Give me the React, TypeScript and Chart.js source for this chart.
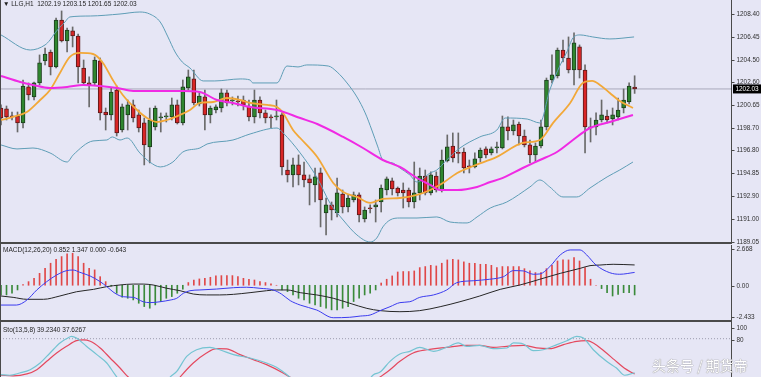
import React, { useEffect, useRef } from 'react';
import { Chart, registerables } from 'chart.js';

Chart.register(...registerables);

// ---------- layout / style constants ----------
const W = 761;
const AXIS_W = 30;
const X_MIN = -0.18;
const X_MAX = 132.49;
const BG = '#e6e6f5';
const FONT = '"Liberation Sans", Arial, sans-serif';
const AXIS_LINE = '#4a4a4a';
const LABEL_COLOR = '#303030';

// ---------- candle data (H1, index 0..115) ----------
const opens = [
  1200.41, 1200.33, 1199.73, 1199.73, 1199.14, 1202.20, 1201.35, 1202.54, 1204.41, 1205.17,
  1203.90, 1207.89, 1206.11, 1206.96, 1206.53, 1203.81, 1202.54, 1202.54, 1204.41, 1200.07,
  1199.82, 1201.94, 1198.54, 1199.82, 1200.67, 1199.82, 1199.14, 1197.10, 1198.80, 1199.56,
  1199.65, 1199.65, 1200.67, 1199.14, 1202.11, 1202.88, 1200.75, 1201.35, 1199.82, 1200.24,
  1200.41, 1201.69, 1201.01, 1201.01, 1201.09, 1200.58, 1199.65, 1201.09, 1199.99, 1199.65,
  1199.65, 1199.82, 1195.14, 1194.72, 1195.57, 1194.72, 1194.38, 1193.87, 1194.89, 1191.49,
  1192.17, 1191.49, 1193.10, 1192.00, 1192.59, 1193.02, 1190.98, 1191.91, 1192.00, 1192.42,
  1193.44, 1194.21, 1193.61, 1193.44, 1193.44, 1192.42, 1193.19, 1194.63, 1193.19, 1194.63,
  1193.44, 1195.91, 1197.18, 1196.59, 1196.67, 1195.45, 1195.40, 1196.16, 1196.93, 1196.59,
  1197.01, 1197.01, 1198.80, 1198.46, 1199.05, 1198.03, 1197.27, 1196.42, 1197.18, 1198.80,
  1202.79, 1203.13, 1205.34, 1204.66, 1203.64, 1205.60, 1203.64, 1198.71, 1198.80, 1199.39,
  1199.73, 1199.48, 1199.65, 1200.41, 1200.92, 1202.19,
];
const highs = [
  1200.67, 1200.58, 1200.07, 1200.07, 1202.79, 1202.54, 1202.62, 1204.92, 1205.51, 1205.34,
  1208.06, 1208.66, 1207.21, 1207.30, 1206.70, 1204.49, 1203.05, 1204.75, 1204.66, 1200.41,
  1202.11, 1202.28, 1200.75, 1201.09, 1201.09, 1200.24, 1199.56, 1200.41, 1200.58, 1199.99,
  1199.99, 1201.26, 1201.09, 1202.79, 1203.64, 1203.64, 1201.77, 1201.94, 1200.58, 1200.67,
  1202.03, 1201.94, 1201.35, 1201.43, 1201.43, 1201.09, 1201.94, 1201.35, 1200.24, 1199.82,
  1201.09, 1199.99, 1195.99, 1196.16, 1196.42, 1195.82, 1194.72, 1195.31, 1195.31, 1192.76,
  1192.42, 1194.46, 1193.44, 1193.02, 1193.27, 1193.19, 1192.00, 1192.17, 1192.59, 1193.87,
  1194.55, 1194.46, 1193.70, 1194.04, 1193.61, 1195.82, 1195.31, 1195.14, 1194.98, 1194.98,
  1196.84, 1198.12, 1198.29, 1198.29, 1197.01, 1195.99, 1196.59, 1197.01, 1197.10, 1197.10,
  1197.52, 1199.73, 1199.65, 1199.39, 1199.22, 1198.54, 1197.69, 1197.44, 1199.39, 1202.96,
  1204.92, 1205.51, 1206.19, 1206.45, 1206.79, 1205.77, 1204.07, 1199.56, 1199.99, 1201.09,
  1200.24, 1200.41, 1201.26, 1202.03, 1202.54, 1203.15,
];
const lows = [
  1198.97, 1199.39, 1199.39, 1198.37, 1198.71, 1201.09, 1201.09, 1202.37, 1204.07, 1203.22,
  1203.81, 1206.02, 1205.17, 1205.60, 1202.54, 1202.37, 1200.50, 1202.37, 1199.39, 1198.54,
  1199.39, 1198.03, 1198.37, 1198.54, 1199.22, 1198.37, 1195.57, 1195.74, 1198.54, 1198.37,
  1199.22, 1199.39, 1199.05, 1198.97, 1201.94, 1200.67, 1200.58, 1198.54, 1199.14, 1199.99,
  1200.07, 1200.58, 1200.67, 1200.58, 1200.24, 1199.31, 1199.14, 1199.56, 1199.14, 1198.71,
  1199.39, 1194.72, 1194.12, 1193.70, 1193.87, 1193.70, 1192.17, 1192.42, 1190.30, 1189.62,
  1190.89, 1191.15, 1191.49, 1191.57, 1192.42, 1190.72, 1190.72, 1191.49, 1190.72, 1191.57,
  1193.02, 1193.02, 1192.93, 1191.91, 1192.00, 1191.91, 1192.59, 1193.02, 1193.02, 1193.27,
  1193.27, 1195.82, 1195.82, 1195.74, 1194.89, 1194.89, 1195.31, 1195.82, 1196.16, 1196.42,
  1196.59, 1196.93, 1197.69, 1198.12, 1197.27, 1197.10, 1195.74, 1195.82, 1197.01, 1198.54,
  1202.54, 1202.96, 1204.32, 1203.39, 1202.37, 1202.96, 1196.59, 1197.52, 1198.12, 1199.22,
  1199.14, 1198.97, 1199.39, 1199.99, 1200.75, 1201.65,
];
const closes = [
  1199.56, 1199.65, 1199.65, 1199.14, 1202.28, 1201.52, 1202.54, 1204.24, 1205.00, 1203.90,
  1207.89, 1206.11, 1207.04, 1206.53, 1203.90, 1202.54, 1202.37, 1204.49, 1199.99, 1199.82,
  1201.77, 1198.29, 1200.50, 1200.67, 1199.56, 1198.71, 1197.27, 1199.39, 1200.41, 1199.65,
  1199.70, 1200.67, 1199.14, 1202.20, 1203.05, 1200.84, 1201.43, 1199.82, 1200.41, 1200.50,
  1201.69, 1200.84, 1201.09, 1200.92, 1200.67, 1199.65, 1201.09, 1199.99, 1199.56, 1199.56,
  1199.73, 1195.40, 1194.72, 1195.57, 1194.72, 1194.29, 1194.04, 1194.55, 1192.59, 1192.17,
  1191.74, 1193.19, 1192.00, 1192.76, 1193.02, 1191.32, 1191.74, 1191.85, 1192.17, 1193.61,
  1194.38, 1193.53, 1193.19, 1193.19, 1192.42, 1193.19, 1194.63, 1193.19, 1194.72, 1193.44,
  1195.99, 1197.10, 1196.16, 1196.55, 1195.31, 1195.40, 1196.08, 1196.84, 1196.42, 1196.93,
  1197.10, 1198.80, 1198.46, 1198.97, 1198.03, 1197.27, 1196.42, 1197.18, 1198.80, 1202.79,
  1203.22, 1205.34, 1204.66, 1203.64, 1205.94, 1203.64, 1198.80, 1198.80, 1199.39, 1199.82,
  1199.39, 1199.82, 1200.24, 1201.09, 1202.28, 1202.03,
];

// ---------- indicator lines: [bar index, value] ----------
const bbUpper = [
  [0, 1206.62], [5.3, 1205.34], [8.0, 1205.77], [8.9, 1206.19], [9.8, 1206.79], [11.6, 1207.72],
  [12.5, 1208.15], [16.2, 1208.23], [21.6, 1208.40], [25.2, 1208.57], [27.0, 1208.40], [28.9, 1207.72],
  [30.3, 1206.45], [31.6, 1205.17], [32.9, 1204.32], [34.3, 1203.81], [36.7, 1202.71], [38.8, 1202.71],
  [43.4, 1202.88], [45.2, 1202.79], [45.7, 1202.54], [50.1, 1202.54], [51.9, 1203.98], [53.9, 1203.90],
  [55.5, 1204.07], [59.4, 1203.98], [61.0, 1203.47], [62.8, 1202.54], [64.6, 1201.35], [66.1, 1199.99],
  [67.3, 1198.54], [68.4, 1197.10], [69.3, 1195.99], [71.1, 1195.74], [72.4, 1195.31], [74.2, 1194.72],
  [75.5, 1194.12], [77.9, 1194.89], [79.1, 1195.14], [80.9, 1195.99], [83.3, 1197.01], [86.9, 1197.95],
  [90.0, 1198.54], [91.5, 1199.56], [95.5, 1199.47], [97.8, 1199.14], [99.6, 1201.94], [101.5, 1204.07],
  [102.7, 1205.17], [103.8, 1206.36], [105.1, 1206.62], [107.4, 1206.45], [110.5, 1206.28], [114.9, 1206.45],
];
const bbLower = [
  [0, 1197.27], [2.9, 1196.93], [5.8, 1197.01], [8.9, 1196.59], [12.0, 1195.82], [13.1, 1196.42],
  [16.7, 1197.61], [19.2, 1197.69], [20.2, 1197.95], [21.6, 1197.69], [22.9, 1197.86], [25.2, 1196.59],
  [27.0, 1195.82], [28.9, 1195.40], [31.2, 1195.82], [33.0, 1196.67], [36.1, 1197.01], [37.4, 1197.35],
  [42.1, 1197.69], [45.2, 1198.20], [50.1, 1198.71], [51.2, 1198.29], [54.3, 1196.59], [57.4, 1194.46],
  [59.7, 1192.34], [62.1, 1190.89], [64.6, 1189.62], [67.0, 1189.02], [68.2, 1189.36], [69.3, 1190.30],
  [70.6, 1190.89], [72.4, 1191.06], [75.5, 1191.06], [79.1, 1191.15], [81.5, 1190.72], [84.6, 1190.64],
  [86.4, 1191.15], [88.8, 1191.91], [91.8, 1192.42], [96.0, 1193.70], [97.8, 1194.29], [99.6, 1193.70],
  [102.0, 1192.85], [104.5, 1192.85], [106.9, 1193.61], [110.0, 1194.55], [112.3, 1195.14], [114.7, 1195.82],
];
const maSlow = [
  [0, 1203.13], [3.5, 1202.62], [5.8, 1202.37], [8.9, 1202.11], [12.0, 1202.20], [14.9, 1202.37],
  [18.0, 1202.28], [21.1, 1202.11], [24.0, 1201.86], [30.1, 1201.86], [33.0, 1201.86], [36.1, 1201.77],
  [39.2, 1201.09], [42.1, 1200.84], [45.2, 1200.50], [50.1, 1200.24], [54.3, 1199.56], [57.4, 1199.05],
  [62.1, 1197.95], [65.7, 1197.01], [69.3, 1195.99], [72.4, 1195.40], [75.5, 1194.46], [77.9, 1193.87],
  [79.7, 1193.44], [82.8, 1193.44], [86.4, 1193.70], [88.8, 1194.12], [90.6, 1194.38], [94.7, 1195.31],
  [97.8, 1195.99], [100.9, 1196.67], [103.8, 1197.69], [106.9, 1198.71], [110.5, 1199.22], [114.7, 1199.82],
];
const maFast = [
  [0, 1199.39], [2.2, 1199.65], [4.7, 1200.07], [7.1, 1201.09], [8.9, 1201.94], [10.7, 1203.39],
  [12.5, 1204.75], [14.3, 1205.09], [16.7, 1205.00], [18.5, 1204.24], [20.3, 1202.79], [22.1, 1201.52],
  [24.7, 1200.24], [26.5, 1199.56], [28.3, 1199.22], [30.1, 1199.39], [32.5, 1199.82], [34.3, 1200.24],
  [36.1, 1200.84], [38.5, 1200.92], [41.0, 1201.26], [43.4, 1201.09], [45.2, 1200.84], [48.3, 1200.67],
  [50.1, 1200.50], [51.2, 1199.99], [53.0, 1198.54], [54.3, 1197.86], [57.4, 1196.25], [60.3, 1194.04],
  [62.1, 1193.27], [64.6, 1192.85], [67.0, 1192.34], [69.3, 1192.68], [72.4, 1192.76], [75.5, 1193.02],
  [77.9, 1193.44], [80.2, 1194.04], [82.8, 1194.89], [85.7, 1195.48], [90.0, 1196.25], [94.7, 1197.44],
  [97.8, 1197.69], [100.2, 1199.14], [103.3, 1200.84], [105.6, 1202.54], [107.3, 1202.71], [108.7, 1202.37],
  [110.5, 1201.69], [112.3, 1201.01], [114.7, 1200.41],
];

// ---------- MACD panel ----------
const macdHist = [
  -0.64, -0.64, -0.53, -0.31, 0.04, 0.24, 0.46, 0.79, 1.13, 1.46,
  1.72, 1.90, 2.08, 2.12, 1.90, 1.46, 1.13, 1.02, 0.57, 0.24,
  -0.05, -0.53, -0.79, -0.86, -0.97, -1.19, -1.41, -1.52, -1.30, -1.08,
  -0.86, -0.75, -0.53, -0.26, 0.18, 0.35, 0.42, 0.46, 0.53, 0.62,
  0.64, 0.64, 0.64, 0.57, 0.46, 0.40, 0.35, 0.24, 0.18, 0.09,
  0.00, -0.31, -0.42, -0.64, -0.86, -0.97, -1.19, -1.30, -1.41, -1.52,
  -1.63, -1.63, -1.52, -1.41, -1.08, -0.86, -0.64, -0.53, -0.31, 0.15,
  0.40, 0.62, 0.88, 0.91, 0.91, 0.95, 1.17, 1.24, 1.32, 1.28,
  1.46, 1.68, 1.72, 1.68, 1.55, 1.46, 1.46, 1.39, 1.39, 1.32,
  1.17, 1.24, 1.24, 1.24, 1.24, 1.10, 0.95, 0.84, 0.84, 1.10,
  1.32, 1.61, 1.68, 1.68, 1.83, 1.61, 1.17, 0.40, 0.00, -0.22,
  -0.49, -0.71, -0.60, -0.49, -0.49, -0.64,
];
const macdMain = [
  [0, -1.31], [2.8, -1.31], [4.7, -0.98], [6.5, -0.31], [8.3, 0.24], [10.1, 0.68], [11.9, 0.97],
  [13.1, 1.01], [14.3, 0.86], [16.2, 0.61], [18.0, 0.24], [19.2, -0.09], [20.7, -0.53], [22.2, -0.76],
  [24.0, -0.80], [25.8, -1.09], [27.0, -1.15], [28.9, -1.09], [30.7, -0.98], [31.9, -0.86], [33.1, -0.53],
  [34.3, -0.36], [36.1, -0.31], [39.1, -0.25], [42.2, -0.16], [44.6, -0.13], [47.0, -0.20], [49.4, -0.31],
  [50.9, -0.58], [52.5, -1.02], [54.3, -1.31], [57.3, -1.64], [60.3, -2.15], [63.3, -2.12], [65.2, -2.04],
  [67.0, -1.97], [68.8, -1.68], [70.6, -1.42], [72.4, -1.15], [74.2, -1.09], [76.0, -0.80], [78.5, -0.64],
  [80.9, -0.31], [82.7, 0.17], [85.7, 0.30], [88.7, 0.40], [91.2, 0.57], [93.0, 0.97], [94.8, 0.95],
  [96.6, 0.73], [97.8, 0.75], [99.6, 1.23], [101.5, 2.01], [103.3, 2.34], [105.1, 2.34], [106.3, 2.01],
  [108.0, 1.34], [110.5, 0.83], [112.3, 0.73], [115, 0.852],
];
const macdSignal = [
  [0, -0.71], [2.2, -0.80], [4.7, -0.93], [7.7, -0.93], [10.7, -0.71], [13.7, -0.43], [16.8, -0.27],
  [19.2, -0.09], [21.6, 0.02], [24.0, 0.08], [25.8, 0.08], [27.6, 0.02], [30.1, -0.20], [32.5, -0.36],
  [34.9, -0.58], [37.3, -0.64], [39.7, -0.64], [42.2, -0.60], [45.2, -0.49], [48.2, -0.36], [50.0, -0.31],
  [51.9, -0.31], [54.3, -0.49], [57.3, -0.64], [60.3, -0.86], [63.3, -1.19], [66.4, -1.53], [68.8, -1.68],
  [72.4, -1.75], [76.0, -1.68], [79.7, -1.42], [83.3, -1.09], [86.9, -0.71], [90.6, -0.27], [94.2, 0.02],
  [97.8, 0.40], [101.5, 0.79], [105.1, 1.12], [106.9, 1.30], [108.7, 1.34], [111.1, 1.39], [115, 1.347],
];

// ---------- Stochastic panel ----------
const stoMain = [
  [0, 36.9], [1.6, 36.2], [3.4, 38.9], [5.3, 42.9], [7.1, 50.9], [8.9, 62.9], [10.7, 74.9], [11.9, 80.0],
  [12.8, 82.8], [13.7, 80.8], [15.5, 70.9], [17.4, 60.9], [19.2, 50.9], [20.7, 36.9], [21.9, 27.0],
  [24.5, 15], [27.5, 12], [29.5, 22], [30.7, 34.1], [31.9, 40.9], [33.7, 58.9], [35.5, 66.8], [37.9, 69.7],
  [39.7, 66.8], [42.2, 60.9], [45.2, 56.9], [48.2, 50.9], [50.0, 45.7], [51.5, 38.9], [52.4, 34.1],
  [54, 25], [57, 14], [61, 10], [64, 13], [66, 24], [67.6, 36.9], [68.8, 40.0], [70.6, 52.9], [72.4, 61.7],
  [74.2, 64.9], [76.0, 69.7], [78.5, 64.9], [80.9, 69.7], [83.0, 74.9], [84.5, 70.9], [86.9, 72.1],
  [89.3, 68.0], [91.8, 68.9], [93.0, 74.9], [94.8, 73.7], [96.6, 65.7], [98.4, 66.8], [100.9, 72.9],
  [102.7, 77.6], [104.5, 82.8], [105.7, 80.8], [107.5, 66.8], [109.9, 52.9], [111.7, 44.9], [113.2, 36.2],
  [115, 39.234],
];
const stoSignal = [
  [0, 36.2], [2.2, 35.5], [4.7, 37.8], [6.5, 42.9], [8.3, 52.9], [10.1, 62.9], [11.9, 70.9], [13.7, 77.7],
  [14.9, 78.5], [16.2, 76.9], [18.0, 68.9], [19.8, 56.9], [21.6, 44.9], [23.1, 34.1], [26, 22], [29, 16],
  [31, 22], [32.5, 34.1], [34.9, 50.9], [37.3, 62.9], [39.1, 68.0], [40.9, 67.7], [43.4, 60.9], [45.8, 54.9],
  [48.2, 48.9], [51.2, 38.9], [52.4, 34.1], [55, 24], [59, 16], [63, 14], [66, 20], [68.8, 34.1],
  [70.6, 42.9], [72.4, 52.9], [74.8, 62.9], [77.3, 66.8], [80.9, 69.7], [84.5, 72.1], [86.9, 72.1],
  [89.3, 69.7], [91.8, 70.9], [94.8, 72.1], [97.2, 68.9], [99.6, 68.0], [102.1, 72.9], [104.5, 76.9],
  [106.3, 77.6], [107.5, 74.9], [109.5, 64.9], [111.3, 54.9], [113.1, 44.9], [115, 37.6267],
];

// ---------- axis ticks ----------
const mainTicks = [1208.40, 1206.45, 1204.50, 1202.60, 1200.65, 1198.70, 1196.80, 1194.85, 1192.90, 1191.00, 1189.05];
const macdTicks = [2.668, 0, -2.433];
const macdTickLabels = ['2.668', '0.00', '-2.433'];
const stoTicks = [100, 80];
const stoTickLabels = ['100', '80'];
const stoLevel = 80;

const MAIN_RANGE = [1188.85, 1209.59];
const MACD_RANGE = [-2.433, 2.668];
const STO_RANGE = [34.13, 100];

const lastClose = closes[closes.length - 1];

const toXY = (pairs: number[][]) => pairs.map(([x, y]) => ({ x, y }));

const lineDs = (pairs: number[][], color: string, width: number, order: number) => ({
  type: 'line',
  data: toXY(pairs),
  borderColor: color,
  borderWidth: width,
  pointRadius: 0,
  fill: false,
  cubicInterpolationMode: 'monotone',
  order,
});

const hLine = (value: number, color: string, order: number, dash: number[] = []) => ({
  type: 'line',
  data: [{ x: X_MIN, y: value }, { x: X_MAX, y: value }],
  borderColor: color,
  borderWidth: 1,
  borderDash: dash,
  pointRadius: 0,
  fill: false,
  order,
});

function axisPlugin(values: number[], labels: string[], dys: number[], box?: { value: number; label: string }) {
  return {
    id: 'rightAxis',
    afterDraw(chart: any) {
      const { ctx, chartArea } = chart;
      const ys = chart.scales.y;
      const xr = Math.round(chartArea.right) + 0.5;
      ctx.save();
      ctx.strokeStyle = AXIS_LINE;
      ctx.lineWidth = 1;
      ctx.beginPath();
      ctx.moveTo(xr, 0);
      ctx.lineTo(xr, chart.height);
      ctx.stroke();
      ctx.font = `6.4px ${FONT}`;
      ctx.fillStyle = LABEL_COLOR;
      ctx.textAlign = 'left';
      ctx.textBaseline = 'middle';
      values.forEach((v, k) => {
        const py = Math.round(ys.getPixelForValue(v) + dys[k]) + 0.5;
        ctx.beginPath();
        ctx.moveTo(xr, py);
        ctx.lineTo(xr + 3, py);
        ctx.stroke();
        ctx.fillText(labels[k], xr + 5, py);
      });
      if (box) {
        const py = ys.getPixelForValue(box.value);
        ctx.fillStyle = '#000';
        ctx.fillRect(xr + 1.5, py - 4.5, W - xr - 1.5, 9);
        ctx.fillStyle = '#fff';
        ctx.fillText(box.label, xr + 4, py + 0.5);
      }
      ctx.restore();
    },
  };
}

function baseOptions(range: number[]) {
  return {
    responsive: false,
    animation: false,
    devicePixelRatio: 1,
    layout: { padding: { left: 0, right: AXIS_W, top: 0, bottom: 0 } },
    plugins: { legend: { display: false }, tooltip: { enabled: false }, title: { display: false } },
    scales: {
      x: { type: 'linear', min: X_MIN, max: X_MAX, display: false, offset: false },
      y: { type: 'linear', min: range[0], max: range[1], display: false },
    },
  };
}

export default function App() {
  const mainRef = useRef<HTMLCanvasElement>(null);
  const macdRef = useRef<HTMLCanvasElement>(null);
  const stoRef = useRef<HTMLCanvasElement>(null);

  useEffect(() => {
    const prevMargin = document.body.style.margin;
    document.body.style.margin = '0';
    const charts: any[] = [];

    const idx = opens.map((_, i) => i);
    const up = idx.map((i) => closes[i] >= opens[i]);

    // main chart
    charts.push(
      new Chart(mainRef.current as HTMLCanvasElement, {
        type: 'bar',
        data: {
          datasets: [
            hLine(lastClose, '#a9a9bb', 20),
            {
              type: 'bar',
              data: idx.map((i) => ({ x: i, y: [lows[i], highs[i]] })),
              backgroundColor: '#6a6a6a',
              borderWidth: 0,
              barThickness: 1,
              grouped: false,
              order: 12,
            },
            {
              type: 'bar',
              data: idx.map((i) => ({ x: i, y: [opens[i], closes[i]] })),
              backgroundColor: idx.map((i) => (up[i] ? '#2f862f' : '#d92626')),
              borderColor: idx.map((i) => (up[i] ? '#1d3d1d' : '#5a1a1a')),
              borderWidth: 1,
              borderSkipped: false,
              barThickness: 4,
              minBarLength: 1,
              grouped: false,
              order: 11,
            },
            lineDs(bbUpper, '#5e9db6', 1, 4),
            lineDs(bbLower, '#5e9db6', 1, 4),
            lineDs(maFast, '#f2a838', 1.8, 2),
            lineDs(maSlow, '#f02ae4', 2, 1),
          ],
        },
        options: baseOptions(MAIN_RANGE),
        plugins: [
          axisPlugin(
            mainTicks,
            mainTicks.map((v) => v.toFixed(2)),
            mainTicks.map(() => 0),
            { value: lastClose, label: lastClose.toFixed(2) }
          ),
        ],
      } as any)
    );

    // MACD chart
    charts.push(
      new Chart(macdRef.current as HTMLCanvasElement, {
        type: 'bar',
        data: {
          datasets: [
            {
              type: 'bar',
              data: macdHist.map((v, i) => ({ x: i, y: v })),
              backgroundColor: macdHist.map((v) => (v >= 0 ? '#e04848' : '#3a8a3a')),
              borderWidth: 0,
              barThickness: 1,
              grouped: false,
              order: 10,
            },
            lineDs(macdSignal, '#262626', 1, 2),
            lineDs(macdMain, '#3b3bef', 1, 1),
          ],
        },
        options: baseOptions(MACD_RANGE),
        plugins: [axisPlugin(macdTicks, macdTickLabels, [3.5, 1, -5])],
      } as any)
    );

    // Stochastic chart
    charts.push(
      new Chart(stoRef.current as HTMLCanvasElement, {
        type: 'line',
        data: {
          datasets: [
            hLine(stoLevel, '#9c9cae', 10, [1, 2]),
            lineDs(stoSignal, '#e4485e', 1.2, 2),
            lineDs(stoMain, '#74c4d2', 1.2, 1),
          ],
        },
        options: baseOptions(STO_RANGE),
        plugins: [axisPlugin(stoTicks, stoTickLabels, [5.5, 1])],
      } as any)
    );

    return () => {
      charts.forEach((c) => c.destroy());
      document.body.style.margin = prevMargin;
    };
  }, []);

  const titleStyle: React.CSSProperties = {
    position: 'absolute',
    left: 3,
    fontSize: '6.5px',
    lineHeight: '8px',
    color: '#1e1e1e',
    whiteSpace: 'pre',
    fontFamily: FONT,
  };

  return (
    <div
      style={{
        position: 'fixed',
        left: 0,
        top: 0,
        width: W,
        height: 377,
        background: BG,
        overflow: 'hidden',
      }}
    >
      <canvas ref={mainRef} width={W} height={244} style={{ position: 'absolute', left: 0, top: 0, width: W, height: 244 }} />
      <canvas ref={macdRef} width={W} height={77} style={{ position: 'absolute', left: 0, top: 245, width: W, height: 77 }} />
      <canvas ref={stoRef} width={W} height={55} style={{ position: 'absolute', left: 0, top: 322, width: W, height: 55 }} />

      {/* panel frames */}
      <div style={{ position: 'absolute', left: 0, top: 242, width: 731, height: 2, background: '#4a4a4a' }} />
      <div style={{ position: 'absolute', left: 0, top: 320, width: 731, height: 2, background: '#4a4a4a' }} />
      <div style={{ position: 'absolute', left: 0, top: 0, width: 1, height: 377, background: '#4a4a4a' }} />

      <span style={{ ...titleStyle, top: 0 }}>{'▼ LLG,H1  1202.19 1203.15 1201.65 1202.03'}</span>
      <span style={{ ...titleStyle, top: 246 }}>{'MACD(12,26,20) 0.852 1.347 0.000 -0.643'}</span>
      <span style={{ ...titleStyle, top: 326 }}>{'Sto(13,5,8) 39.2340 37.6267'}</span>

      <span
        style={{
          position: 'absolute',
          left: 652,
          top: 357,
          fontSize: '14px',
          lineHeight: '16px',
          color: '#ffffff',
          fontFamily: '"Noto Sans CJK SC", sans-serif',
          textShadow: '0 0 1px #8a8a8a, 0 0 1px #8a8a8a',
          whiteSpace: 'pre',
        }}
      >
        {'头条号 / 期货帝'}
      </span>
    </div>
  );
}
